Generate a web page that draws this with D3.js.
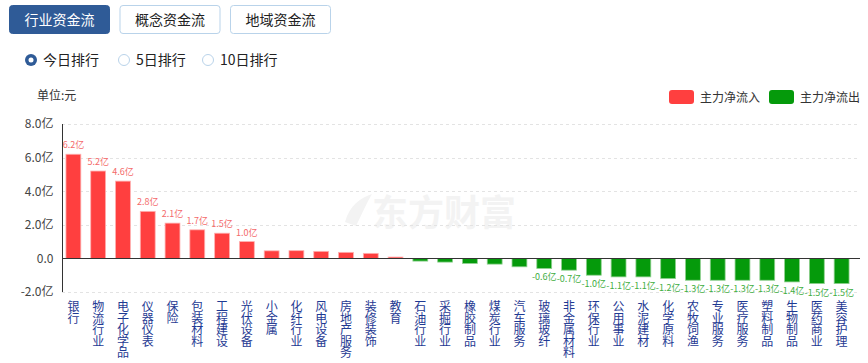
<!DOCTYPE html>
<html>
<head>
<meta charset="utf-8">
<script src="https://cdn.jsdelivr.net/npm/d3@7"></script>
<style>
  body { margin: 0; background: #fff; font-family: "Microsoft YaHei", "Noto Sans CJK SC", sans-serif; }
  .chart svg { display: block; }
</style>
</head>
<body>
<div class="chart"></div>
<script>
const FRAME_WIDTH = 868;
const FRAME_HEIGHT = 363;

// data
const TABS = ["行业资金流", "概念资金流", "地域资金流"];
const RANKS = ["今日排行", "5日排行", "10日排行"];
const CATEGORIES = ["银行", "物流行业", "电子化学品", "仪器仪表", "保险", "包装材料", "工程建设", "光伏设备",
  "小金属", "化纤行业", "风电设备", "房地产服务", "装修装饰", "教育", "石油行业", "采掘行业", "橡胶制品",
  "煤炭行业", "汽车服务", "玻璃玻纤", "非金属材料", "环保行业", "公用事业", "水泥建材", "化学原料",
  "农牧饲渔", "专业服务", "医疗服务", "塑料制品", "生物制品", "医药商业", "美容护理"];
const VALUES = [6.2, 5.2, 4.6, 2.8, 2.1, 1.7, 1.5, 1.0, 0.45, 0.46, 0.42, 0.36, 0.3, 0.08,
  -0.16, -0.22, -0.3, -0.34, -0.5, -0.6, -0.7, -1.0, -1.1, -1.1, -1.2, -1.3, -1.3, -1.3, -1.3, -1.4, -1.5, -1.5];
const SHOW_LABEL = [1, 1, 1, 1, 1, 1, 1, 1, 0, 0, 0, 0, 0, 0, 0, 0, 0, 0, 0, 1, 1, 1, 1, 1, 1, 1, 1, 1, 1, 1, 1, 1];
const Y_TICKS = [-2, 0, 2, 4, 6, 8];
const LEGEND = ["主力净流入", "主力净流出"];

const RED = "#ff3f3f";
const GREEN = "#059a0b";

const svg = d3.select(".chart").append("svg")
  .attr("width", FRAME_WIDTH)
  .attr("height", FRAME_HEIGHT);

// tabs
TABS.forEach((t, i) => {
  const x = 9 + i * 110.5;
  svg.append("rect")
    .attr("x", x + 0.5).attr("y", 5.5)
    .attr("width", 100).attr("height", 28)
    .attr("rx", 3)
    .attr("fill", i == 0 ? "#2f5b97" : "#fff")
    .attr("stroke", i == 0 ? "#2f5b97" : "#b9d3ea");
  svg.append("text")
    .attr("x", x + 50.5).attr("y", 25)
    .attr("text-anchor", "middle")
    .attr("font-size", "14px")
    .attr("fill", i == 0 ? "#fff" : "#222")
    .text(t);
});

// radio buttons
const RADIO_X = [31, 124, 208];
RANKS.forEach((r, i) => {
  const cx = RADIO_X[i];
  if (i == 0) {
    svg.append("circle").attr("cx", cx).attr("cy", 60).attr("r", 6).attr("fill", "#2f5b97");
    svg.append("circle").attr("cx", cx).attr("cy", 60).attr("r", 2.5).attr("fill", "#fff");
  } else {
    svg.append("circle").attr("cx", cx).attr("cy", 60).attr("r", 5.5)
      .attr("fill", "#fff").attr("stroke", "#b9d3ea");
  }
  svg.append("text")
    .attr("x", cx + 12).attr("y", 65)
    .attr("font-size", "14px")
    .attr("fill", "#222")
    .text(r);
});

// unit
svg.append("text")
  .attr("x", 37).attr("y", 100)
  .attr("font-size", "12px")
  .attr("fill", "#333")
  .text("单位:元");

// legend
LEGEND.forEach((l, i) => {
  const x = 669 + i * 100;
  svg.append("rect")
    .attr("x", x).attr("y", 90)
    .attr("width", 25).attr("height", 14)
    .attr("rx", 3)
    .attr("fill", i == 0 ? RED : GREEN);
  svg.append("text")
    .attr("x", x + 31).attr("y", 101.5)
    .attr("font-size", "12px")
    .attr("fill", "#333")
    .text(l);
});

// watermark
svg.append("text")
  .attr("x", 372).attr("y", 226)
  .attr("font-size", "36px")
  .attr("font-weight", "bold")
  .attr("fill", "#f3f3f3")
  .text("东方财富");
svg.append("path")
  .attr("d", "M345,222 C350,205 360,198 372,194 C366,204 362,214 356,226 Z")
  .attr("fill", "#f3f3f3");

// scales
const X_SCALE = d3.scaleBand()
  .domain(CATEGORIES)
  .range([61, 854])
  .paddingInner(0.4)
  .paddingOuter(0.2);

const Y_SCALE = d3.scaleLinear()
  .domain([-2, 8])
  .range([292, 124]);

// gridlines
svg.append("g")
  .selectAll("line")
  .data(Y_TICKS.filter((d) => d != 0))
  .enter().append("line")
  .attr("x1", 62).attr("x2", 860)
  .attr("y1", (d) => Math.round(Y_SCALE(d)) + 0.5)
  .attr("y2", (d) => Math.round(Y_SCALE(d)) + 0.5)
  .attr("stroke", "#e3e3e3")
  .attr("stroke-dasharray", "3,3");

// y axis
const yAxis = svg.append("g")
  .attr("transform", "translate(62.5,0)")
  .call(d3.axisLeft(Y_SCALE).tickValues(Y_TICKS).tickSize(0).tickPadding(9)
    .tickFormat((d) => d == 0 ? "0.0" : d.toFixed(1) + "亿"));
yAxis.select(".domain").attr("stroke", "#333").attr("d", "M0,124V292");
yAxis.selectAll("text").attr("font-size", "12px").attr("fill", "#444")
  .attr("font-family", "Microsoft YaHei, Noto Sans CJK SC, sans-serif");

const DATA = CATEGORIES.map((c, i) => ({c: c, v: VALUES[i], s: SHOW_LABEL[i]}));

// bars
svg.append("g")
  .selectAll("rect")
  .data(DATA)
  .enter().append("rect")
  .attr("x", (d) => X_SCALE(d.c))
  .attr("y", (d) => Y_SCALE(Math.max(0, d.v)))
  .attr("width", X_SCALE.bandwidth())
  .attr("height", (d) => Math.abs(Y_SCALE(d.v) - Y_SCALE(0)))
  .attr("fill", (d) => d.v >= 0 ? RED : GREEN)
  .attr("stroke", (d) => d.v >= 0 ? "#ffb0b0" : "#8fd08f")
  .attr("stroke-width", 0.8);

// zero line
svg.append("line")
  .attr("x1", 62).attr("x2", 860)
  .attr("y1", Math.round(Y_SCALE(0)) + 0.5).attr("y2", Math.round(Y_SCALE(0)) + 0.5)
  .attr("stroke", "#333");

// value labels
svg.append("g")
  .selectAll("text")
  .data(DATA.filter((d) => d.s))
  .enter().append("text")
  .attr("x", (d) => X_SCALE(d.c) + X_SCALE.bandwidth() / 2)
  .attr("y", (d) => d.v >= 0 ? Y_SCALE(d.v) - 6 : Y_SCALE(d.v) + 12)
  .attr("text-anchor", "middle")
  .attr("font-size", "9px")
  .attr("fill", (d) => d.v >= 0 ? "#f46a6a" : "#3fae3f")
  .text((d) => d.v.toFixed(1) + "亿");

// x labels, one character per line
const xl = svg.append("g")
  .selectAll("text")
  .data(CATEGORIES)
  .enter().append("text")
  .attr("text-anchor", "middle")
  .attr("font-size", "12px")
  .attr("fill", "#1f3a93");
xl.selectAll("tspan")
  .data((d) => d.split("").map((ch, j) => ({ch: ch, j: j, c: d})))
  .enter().append("tspan")
  .attr("x", (d) => X_SCALE(d.c) + X_SCALE.bandwidth() / 2)
  .attr("y", (d) => 311 + d.j * 11.6)
  .text((d) => d.ch);
</script>
</body>
</html>
